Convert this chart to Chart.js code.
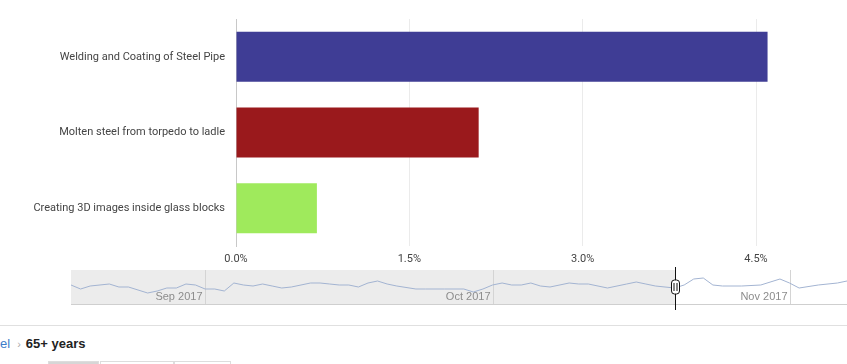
<!DOCTYPE html>
<html lang="en">
  <head>
    <meta charset="UTF-8" />
    <title>Videos by share</title>
    <script src="https://cdn.jsdelivr.net/npm/chart.js@4.4.0/dist/chart.umd.min.js"></script>
    <style>
      body { margin: 0; width: 847px; height: 364px; overflow: hidden; background: #fff; position: relative; font-family: "Liberation Sans", Arial, sans-serif; }
      #mainWrap { position: absolute; left: 0; top: 0; width: 847px; height: 270px; }
      #sparkWrap { position: absolute; left: 71px; top: 262px; width: 776px; height: 50px; }
      #sep { position: absolute; left: 0; top: 325px; width: 847px; height: 1px; background: #e0e0e0; }
      #crumb { position: absolute; left: 0; top: 336px; font-size: 13px; white-space: nowrap; }
      #crumb .link { color: #3d7cc9; }
      #crumb .arrow { color: #aaa; margin: 0 5px 0 7px; font-size: 11px; }
      #crumb .cur { color: #222; font-weight: bold; }
      .tab { position: absolute; top: 361px; height: 10px; border: 1px solid #ddd; border-bottom: none; }
    </style>
  </head>
  <body>
    <div id="mainWrap"><canvas id="mainChart"></canvas></div>
    <div id="sparkWrap"><canvas id="sparkChart"></canvas></div>
    <div id="sep"></div>
    <div id="crumb"><span class="link">el</span><span class="arrow">›</span><span class="cur">65+ years</span></div>
    <div class="tab" style="left: 48px; width: 49px; background: #d6d6d6;"></div>
    <div class="tab" style="left: 100px; width: 72px;"></div>
    <div class="tab" style="left: 174px; width: 55px;"></div>
    <script>
      // videos and their share (%)
      const videos = [
        "Welding and Coating of Steel Pipe",
        "Molten steel from torpedo to ladle",
        "Creating 3D images inside glass blocks",
      ];
      const shares = [4.6, 2.1, 0.7];
      const barColors = ["#3f3d95", "#9a191c", "#9fea5c"];
      const tickValues = [0, 1.5, 3.0, 4.5];

      // range selector overview: day offset from Aug 18 2017 and relative level
      const sparkDays = [0, 1, 2, 4, 5, 6, 8, 9, 10, 11, 12, 13, 14, 15, 16, 17, 18, 19, 20, 21, 22, 23, 25, 26, 27, 28, 29, 30, 31, 32, 33, 34, 36, 37, 39, 41, 42, 43, 44, 45, 46, 47, 48, 49, 50, 52, 53, 54, 56, 58, 59, 60, 61, 63, 64, 65, 66, 67, 68, 70, 72, 74, 75, 76, 78, 80, 81];
      const sparkValues = [15, 11, 14, 16, 13, 13, 7, 9, 12, 12, 16, 15, 11, 11, 9, 17, 15, 14, 16, 14, 12, 13, 17, 17, 16, 15, 15, 13, 17, 19, 16, 14, 11, 11, 11, 11, 8, 11, 15, 17, 15, 15, 17, 14, 13, 17, 16, 16, 12, 16, 18, 16, 14, 12, 15, 21, 22, 15, 14, 14, 15, 21, 17, 12, 15, 17, 19];
      const monthDays = [14, 44, 75];
      const monthLabels = ["Sep 2017", "Oct 2017", "Nov 2017"];
      const handleDay = 63.05;

      /*** main bar chart ***/
      new Chart(document.getElementById("mainChart"), {
        type: "bar",
        data: {
          labels: videos,
          datasets: [
            {
              data: shares,
              backgroundColor: barColors,
              barPercentage: 0.66,
              categoryPercentage: 1,
            },
          ],
        },
        options: {
          indexAxis: "y",
          responsive: true,
          maintainAspectRatio: false,
          animation: false,
          layout: { padding: { top: 19, right: 0, left: 0, bottom: 0 } },
          plugins: { legend: { display: false }, tooltip: { enabled: false } },
          scales: {
            x: {
              min: 0,
              max: (4.5 * 611) / 520,
              afterBuildTicks: (s) => {
                s.ticks = tickValues.map((v) => ({ value: v }));
              },
              afterFit: (s) => {
                s.height = 24;
              },
              grid: { color: "#ebebeb", drawTicks: false },
              border: { display: false },
              ticks: {
                padding: 7,
                color: "#444",
                font: { family: "Roboto", size: 11 },
                callback: (v) => Number(v).toFixed(1) + "%",
              },
            },
            y: {
              afterFit: (s) => {
                s.width = 236;
              },
              grid: { display: false, drawTicks: false },
              border: { color: "#c8c8c8" },
              ticks: {
                padding: 11,
                color: "#444",
                font: { family: "Roboto", size: 11 },
              },
            },
          },
        },
      });

      /*** overview strip decorations ***/
      const stripDeco = {
        id: "stripDeco",
        beforeDatasetsDraw(chart) {
          const { ctx, chartArea: a, scales } = chart;
          const hx = scales.x.getPixelForValue(handleDay);
          ctx.save();
          ctx.fillStyle = "#ececec";
          ctx.fillRect(a.left, a.top, hx - a.left, a.bottom - a.top);
          ctx.strokeStyle = "#d4d4d4";
          ctx.lineWidth = 1;
          monthDays.forEach((d, i) => {
            const x = Math.round(scales.x.getPixelForValue(d)) + 0.5;
            ctx.beginPath();
            ctx.moveTo(x, a.top);
            ctx.lineTo(x, a.bottom);
            ctx.stroke();
            ctx.fillStyle = "#8c8c8c";
            ctx.font = "11px 'Liberation Sans', Arial, sans-serif";
            ctx.textAlign = "right";
            ctx.textBaseline = "alphabetic";
            ctx.fillText(monthLabels[i], x - 3, a.bottom - 4);
          });
          ctx.strokeStyle = "#cfcfcf";
          ctx.beginPath();
          ctx.moveTo(a.left, a.bottom + 0.5);
          ctx.lineTo(a.right, a.bottom + 0.5);
          ctx.stroke();
          ctx.restore();
        },
        afterDraw(chart) {
          const { ctx, chartArea: a, scales } = chart;
          const hx = Math.round(scales.x.getPixelForValue(handleDay)) + 0.5;
          ctx.save();
          ctx.strokeStyle = "#111";
          ctx.lineWidth = 1;
          ctx.beginPath();
          ctx.moveTo(hx, a.top - 3);
          ctx.lineTo(hx, a.bottom + 6);
          ctx.stroke();
          const my = (a.top + a.bottom) / 2;
          ctx.fillStyle = "#fff";
          ctx.beginPath();
          ctx.roundRect(hx - 4, my - 7, 8, 14, 3);
          ctx.fill();
          ctx.stroke();
          ctx.beginPath();
          ctx.moveTo(hx - 1.5, my - 4);
          ctx.lineTo(hx - 1.5, my + 4);
          ctx.moveTo(hx + 1.5, my - 4);
          ctx.lineTo(hx + 1.5, my + 4);
          ctx.stroke();
          ctx.restore();
        },
      };

      new Chart(document.getElementById("sparkChart"), {
        type: "line",
        data: {
          datasets: [
            {
              data: sparkDays.map((d, i) => ({ x: d, y: sparkValues[i] })),
              borderColor: "#a3b4d2",
              borderWidth: 1,
              pointRadius: 0,
              tension: 0,
            },
          ],
        },
        options: {
          responsive: true,
          maintainAspectRatio: false,
          animation: false,
          layout: { padding: { top: 8, bottom: 8, left: 0, right: 0 } },
          plugins: { legend: { display: false }, tooltip: { enabled: false } },
          scales: {
            x: { type: "linear", min: 0, max: 81, display: false },
            y: { min: -4, max: 30, display: false },
          },
        },
        plugins: [stripDeco],
      });
    </script>
  </body>
</html>
